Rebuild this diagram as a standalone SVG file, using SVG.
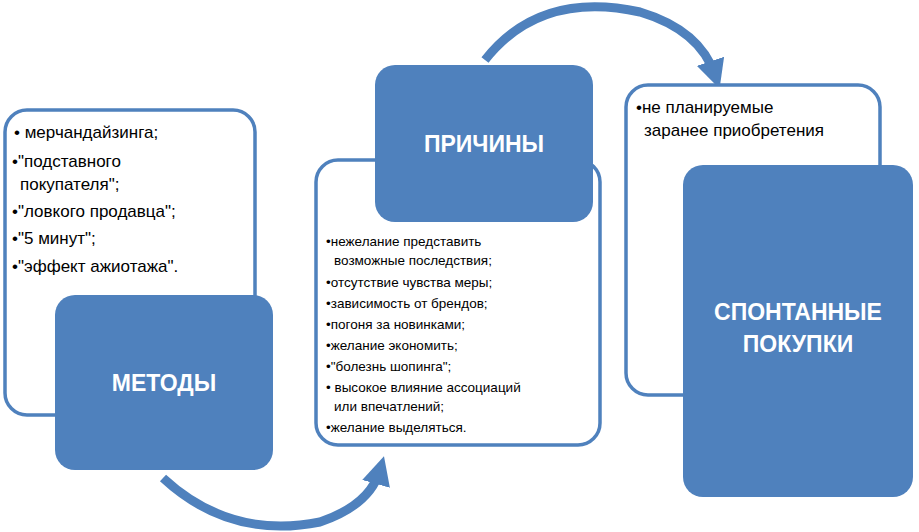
<svg xmlns="http://www.w3.org/2000/svg" width="919" height="532" viewBox="0 0 919 532">
<defs>
<marker id="ah" viewBox="0 0 10 10" refX="5" refY="5" markerWidth="3.2" markerHeight="3.2" orient="auto" markerUnits="strokeWidth"><path d="M0,0 L10,5 L0,10 Z" fill="#4F81BD"/></marker>
</defs>
<style>
.wb{fill:#fff;stroke:#4F81BD;stroke-width:3.5}
.bb{fill:#4F81BD;stroke:none}
.t{font-family:"Liberation Sans",Arial,sans-serif;font-size:17px;fill:#000}
.s{font-family:"Liberation Sans",Arial,sans-serif;font-size:13.5px;fill:#000}
.h{font-family:"Liberation Sans",Arial,sans-serif;font-size:23px;font-weight:bold;fill:#fff;text-anchor:middle}
.c{fill:none;stroke:#4F81BD;stroke-width:9}
</style>
<rect width="919" height="532" fill="#fff"/>
<g id="connectors">
<path class="c" d="M163,478 Q230,540 320,522 Q370,505 380,470" marker-end="url(#ah)"/>
<path class="c" d="M485,60 Q540,-10 640,12 Q700,30 715,75" marker-end="url(#ah)"/>
</g>
<g id="methods-list">
<rect class="wb" x="5" y="110" width="250" height="305" rx="22"/>
<text class="t" x="14" y="138">• мерчандайзинга;</text>
<text class="t" x="12" y="167">•"подставного</text>
<text class="t" x="20" y="190">покупателя";</text>
<text class="t" x="12" y="217">•"ловкого продавца";</text>
<text class="t" x="12" y="244">•"5 минут";</text>
<text class="t" x="12" y="272">•"эффект ажиотажа".</text>
</g>
<g id="methods">
<rect class="bb" x="55" y="295" width="218" height="175" rx="20"/>
<text class="h" x="164" y="391">МЕТОДЫ</text>
</g>
<g id="reasons-list">
<rect class="wb" x="316" y="160" width="284" height="285" rx="22"/>
<text class="s" x="326" y="246">•нежелание представить</text>
<text class="s" x="334" y="265">возможные последствия;</text>
<text class="s" x="326" y="287">•отсутствие чувства меры;</text>
<text class="s" x="326" y="308">•зависимость от брендов;</text>
<text class="s" x="326" y="329">•погоня за новинками;</text>
<text class="s" x="326" y="350">•желание экономить;</text>
<text class="s" x="326" y="371">•"болезнь шопинга";</text>
<text class="s" x="326" y="392">• высокое  влияние  ассоциаций</text>
<text class="s" x="334" y="411">или впечатлений;</text>
<text class="s" x="326" y="432">•желание выделяться.</text>
</g>
<g id="reasons">
<rect class="bb" x="375" y="65" width="218" height="157" rx="20"/>
<text class="h" x="484" y="152">ПРИЧИНЫ</text>
</g>
<g id="spont-list">
<rect class="wb" x="626" y="85" width="254" height="310" rx="22"/>
<text class="t" x="636" y="113">•не планируемые</text>
<text class="t" x="644" y="136">заранее приобретения</text>
</g>
<g id="spont">
<rect class="bb" x="683" y="165" width="230" height="332" rx="20"/>
<text class="h" x="798" y="320">СПОНТАННЫЕ</text>
<text class="h" x="798" y="352">ПОКУПКИ</text>
</g>
</svg>
